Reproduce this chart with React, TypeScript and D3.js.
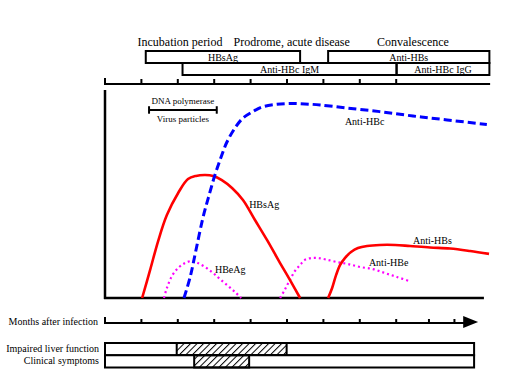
import React from "react";
import * as d3 from "d3";

// ---- data (x in months after infection, y in relative level 0..100) ----
const hbsAg: [number, number][] = [
  [1.02, 0], [1.24, 13.5], [1.46, 27.4], [1.7, 39.9], [2.01, 50.5], [2.28, 57.2],
  [2.5, 58.7], [2.75, 59.1], [2.97, 58.7], [3.21, 56.7], [3.49, 52.9], [3.79, 47.1],
  [4.12, 37.5], [4.45, 27.9], [4.81, 16.8], [5.08, 8.7], [5.36, 0],
];
const antiHBc: [number, number][] = [
  [2.17, 0], [2.34, 10.1], [2.5, 23.1], [2.69, 38.5], [2.86, 49.5], [3.02, 59.1],
  [3.19, 67.8], [3.35, 75.0], [3.57, 81.7], [3.79, 86.5], [4.04, 89.4], [4.31, 91.8],
  [4.67, 93.0], [5.08, 93.5], [5.49, 93.3], [5.91, 92.8], [6.65, 91.3], [7.55, 89.6],
  [8.46, 87.5], [9.4, 85.6], [10.49, 83.4],
];
const hbeAg: [number, number][] = [
  [1.62, 0], [1.7, 4.8], [1.84, 10.6], [2.01, 14.4], [2.2, 16.8], [2.39, 17.8],
  [2.55, 16.8], [2.75, 14.9], [2.97, 12.0], [3.16, 9.1], [3.38, 5.8], [3.57, 2.9], [3.74, 0],
];
const antiHBe: [number, number][] = [
  [4.81, 0], [4.95, 4.3], [5.08, 8.7], [5.22, 13.0], [5.36, 15.9], [5.49, 18.3],
  [5.66, 19.2], [5.85, 19.2], [6.07, 18.5], [6.37, 17.3], [6.68, 16.3], [7.01, 14.9],
  [7.36, 13.9], [7.69, 12.0], [8.02, 10.1], [8.35, 8.2],
];
const antiHBs: [number, number][] = [
  [6.13, 0], [6.24, 4.8], [6.35, 11.1], [6.46, 15.9], [6.59, 19.2], [6.76, 22.1],
  [6.95, 24.0], [7.2, 25.0], [7.55, 25.5], [7.97, 25.5], [8.38, 25.0], [8.93, 24.3],
  [9.48, 23.8], [10.03, 22.6], [10.55, 21.2],
];

const phaseLabels = ["Incubation period", "Prodrome, acute disease", "Convalescence"];
const phaseCenters = [2.06, 5.13, 8.46];

// marker boxes: [label, start, end, row]
const markerBoxes: [string, number, number, number][] = [
  ["HBsAg", 1.12, 5.36, 0],
  ["Anti-HBs", 6.13, 10.56, 0],
  ["Anti-HBc IgM", 2.13, 8.01, 1],
  ["Anti-HBc IgG", 8.01, 10.56, 1],
];

const topTicks = [1, 2, 3, 4, 5, 6, 7, 8];
const bottomTicks = [1, 2, 3, 4, 5, 6, 7, 8, 8.9, 9.6];

// curve labels: [text, x, y]
const curveLabels: [string, number, number][] = [
  ["HBsAg", 3.96, 43.3],
  ["HBeAg", 3.02, 12.0],
  ["Anti-HBe", 7.25, 15.4],
  ["Anti-HBs", 8.46, 26],
  ["Anti-HBc", 6.59, 83.2],
];

const bracketRange = [1.21, 3.07];
const bracketLabels = ["DNA polymerase", "Virus particles"];

// symptom rows: [label, hatchStart, hatchEnd]
const symptomRows: [string, number, number][] = [
  ["Impaired liver function", 1.97, 4.99],
  ["Clinical symptoms", 2.45, 3.96],
];
const timelineEnd = 10.14;

const FONT = "'Liberation Serif', 'Times New Roman', serif";

export default function App() {
  const x = d3.scaleLinear().domain([0, 10]).range([105, 469]);
  const y = d3.scaleLinear().domain([0, 100]).range([298, 90]);
  const line = d3
    .line<[number, number]>()
    .x((d) => x(d[0]))
    .y((d) => y(d[1]))
    .curve(d3.curveCatmullRom.alpha(0.5));

  const rowY = d3.scaleOrdinal<number, number>().domain([0, 1]).range([51, 63]);
  const rowH = 12;
  const symY = d3.scaleBand<number>().domain([0, 1]).range([343, 367.5]).padding(0);

  const topAxisY = 84;
  const timeAxisY = 323;

  return (
    <svg
      width={519}
      height={385}
      style={{ position: "absolute", left: 0, top: 0, background: "#fff" }}
      fontFamily={FONT}
    >
      <defs>
        <pattern
          id="hatch"
          patternUnits="userSpaceOnUse"
          width={4.6}
          height={4.6}
          patternTransform="rotate(45)"
        >
          <line x1={0} y1={-1} x2={0} y2={6} stroke="#000" strokeWidth={2} />
        </pattern>
      </defs>
      <rect x={0} y={0} width={519} height={385} fill="#fff" />

      {/* phase headers */}
      {phaseLabels.map((t, i) => (
        <text key={t} x={x(phaseCenters[i])} y={46} fontSize={12} textAnchor="middle">
          {t}
        </text>
      ))}

      {/* marker boxes */}
      {markerBoxes.map(([t, s, e, r]) => (
        <g key={t}>
          <rect
            x={x(s)}
            y={rowY(r)}
            width={x(e) - x(s)}
            height={rowH}
            fill="none"
            stroke="#000"
            strokeWidth={2}
          />
          <text
            x={(x(s) + x(e)) / 2}
            y={rowY(r) + 9.5}
            fontSize={10}
            textAnchor="middle"
          >
            {t}
          </text>
        </g>
      ))}

      {/* top axis */}
      <line x1={x(0)} x2={x(10.58)} y1={topAxisY} y2={topAxisY} stroke="#000" strokeWidth={2} />
      <line x1={x(0)} x2={x(0)} y1={topAxisY - 6} y2={topAxisY + 1} stroke="#000" strokeWidth={2} />
      {topTicks.map((t) => (
        <line key={t} x1={x(t)} x2={x(t)} y1={topAxisY - 5} y2={topAxisY} stroke="#000" strokeWidth={2} />
      ))}

      {/* main axes */}
      <line x1={x(0)} x2={x(0)} y1={y(100)} y2={y(0) + 1} stroke="#000" strokeWidth={2.5} />
      <line x1={x(0) - 1} x2={x(10.41)} y1={y(0)} y2={y(0)} stroke="#000" strokeWidth={2.5} />

      {/* bracket */}
      <g stroke="#000" strokeWidth={2}>
        <line x1={x(bracketRange[0])} x2={x(bracketRange[1])} y1={y(90.4)} y2={y(90.4)} />
        <line x1={x(bracketRange[0])} x2={x(bracketRange[0])} y1={y(92.2)} y2={y(88.6)} />
        <line x1={x(bracketRange[1])} x2={x(bracketRange[1])} y1={y(92.2)} y2={y(88.6)} />
      </g>
      <text x={x((bracketRange[0] + bracketRange[1]) / 2)} y={y(93.3)} fontSize={9} textAnchor="middle">
        {bracketLabels[0]}
      </text>
      <text x={x((bracketRange[0] + bracketRange[1]) / 2)} y={y(84.6)} fontSize={9} textAnchor="middle">
        {bracketLabels[1]}
      </text>

      {/* curves */}
      <path d={line(hbeAg) || ""} fill="none" stroke="#ff00ff" strokeWidth={2.2} strokeDasharray="2 3" />
      <path d={line(antiHBe) || ""} fill="none" stroke="#ff00ff" strokeWidth={2.2} strokeDasharray="2 3" />
      <path d={line(hbsAg) || ""} fill="none" stroke="#ff0000" strokeWidth={2.6} />
      <path d={line(antiHBs) || ""} fill="none" stroke="#ff0000" strokeWidth={2.6} />
      <path d={line(antiHBc) || ""} fill="none" stroke="#0000ff" strokeWidth={3} strokeDasharray="8 4" />

      {curveLabels.map(([t, cx, cy]) => (
        <text key={t} x={x(cx)} y={y(cy)} fontSize={10}>
          {t}
        </text>
      ))}

      {/* time axis */}
      <text x={98} y={timeAxisY + 1.5} fontSize={10} textAnchor="end">
        Months after infection
      </text>
      <line x1={x(0)} x2={x(9.9)} y1={timeAxisY} y2={timeAxisY} stroke="#000" strokeWidth={2} />
      <line x1={x(0)} x2={x(0)} y1={timeAxisY - 6} y2={timeAxisY + 1} stroke="#000" strokeWidth={2} />
      {bottomTicks.map((t) => (
        <line key={t} x1={x(t)} x2={x(t)} y1={timeAxisY - 4} y2={timeAxisY} stroke="#000" strokeWidth={2} />
      ))}
      <path
        d={`M${x(9.84)},${timeAxisY - 7} L${x(10.25)},${timeAxisY - 1} L${x(9.84)},${timeAxisY + 5} Z`}
        fill="#000"
      />

      {/* symptom rows */}
      {symptomRows.map(([t, s, e], i) => (
        <g key={t}>
          <rect
            x={x(0)}
            y={symY(i)}
            width={x(timelineEnd) - x(0)}
            height={symY.bandwidth()}
            fill="#fff"
            stroke="#000"
            strokeWidth={2}
          />
          <rect
            x={x(s)}
            y={symY(i)}
            width={x(e) - x(s)}
            height={symY.bandwidth()}
            fill="url(#hatch)"
            stroke="#000"
            strokeWidth={2}
          />
          <text x={99} y={(symY(i) || 0) + 8.5} fontSize={10} textAnchor="end">
            {t}
          </text>
        </g>
      ))}
    </svg>
  );
}
